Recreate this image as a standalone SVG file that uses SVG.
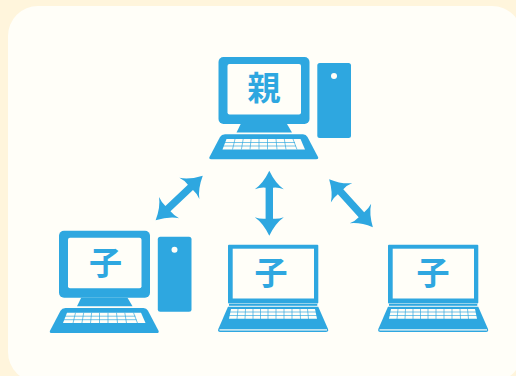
<svg xmlns="http://www.w3.org/2000/svg" width="516" height="376" viewBox="0 0 516 376">
<style>
.b{fill:#2ea7e0}
.s{fill:#fffef8}
.k{stroke:#2ea7e0;stroke-width:.8;opacity:.85;fill:none}
.t{font-family:"Noto Sans CJK JP","Noto Sans CJK SC",sans-serif;font-weight:700;fill:#2ea7e0;text-anchor:middle}
</style>
<defs>
<g id="desktop">
<rect class="b" x="218.500" y="57" width="91" height="67" rx="5"/>
<rect class="s" x="227.500" y="64" width="73.500" height="50.500" rx="2"/>
<path class="b" d="M240.700 124H287L292 132.500H236.500Z"/>
<path class="b" d="M225 134.300H303Q306 134.300 307.500 137L318 157Q319 159.300 316 159.300H211.500Q208.500 159.300 209.500 157L220 137Q221.500 134.300 225 134.300Z"/>
<rect class="b" x="317.300" y="63" width="33.700" height="75" rx="2.500"/>
<circle class="s" cx="334" cy="76" r="3"/>
<path class="s" d="M226.500 139H300.500L305 149.400H222.500Z"/>
<path class="k" d="M222 142.500H295M222 146H296M235 139L232.500 149.500M243.200 139L241.400 149.500M251.100 139L250 149.500M259 139V149.500M267.500 139V149.500M276 139L277 149.500M284.300 139L286 149.500M293 139L297 149.500"/>
</g>
<g id="laptop">
<rect class="b" x="228" y="244.700" width="90.300" height="58.800" rx="1"/>
<rect class="s" x="232.700" y="248.700" width="81.300" height="49.800"/>
<rect class="b" x="229" y="304" width="88.300" height="1.800"/>
<path class="b" d="M228 306.700H318.300L328 329Q328.800 332 326 332H220.500Q217.500 332 218.300 329Z"/>
<rect class="s" x="219.500" y="329.300" width="107.500" height="1.200"/>
<path class="s" d="M231 309H315L317 318.800H229Z"/>
<path class="k" d="M229 312H317M229 315.500H317M238 309L237 319M245.500 309L245 319M253 309V319M260.500 309V319M268 309V319M276 309V319M284 309V319M292 309V319M300 309L300.500 319M307.500 309L308.500 319" opacity=".45"/>
</g>
<path id="arrow" class="b" d="M0 -32.500Q6 -20 14.500 -14Q9 -16 3.700 -15.500V15.500Q9 16 14.500 14Q6 20 0 32.500Q-6 20 -14.500 14Q-9 16 -3.700 15.500V-15.500Q-9 -16 -14.500 -14Q-6 -20 0 -32.500Z"/>
</defs>
<rect width="516" height="376" fill="#fff5dc"/>
<rect x="8" y="6" width="514" height="376" rx="30" class="s"/>
<g id="connectors">
<use href="#arrow" transform="translate(179.200 198) rotate(46.500)"/>
<use href="#arrow" transform="translate(269.300 203.200)"/>
<use href="#arrow" transform="translate(351 203.200) rotate(-42.300)"/>
</g>
<g id="parent">
<use href="#desktop"/>
<text class="t" x="264" y="100" font-size="33">親</text>
</g>
<g id="child-desktop">
<use href="#desktop" transform="translate(-159.500 173.700)"/>
<text class="t" x="105.500" y="275" font-size="33">子</text>
</g>
<g id="child-laptop-1">
<use href="#laptop"/>
<text class="t" x="271" y="285" font-size="33">子</text>
</g>
<g id="child-laptop-2">
<use href="#laptop" transform="translate(160 0)"/>
<text class="t" x="433" y="285" font-size="33">子</text>
</g>
</svg>
